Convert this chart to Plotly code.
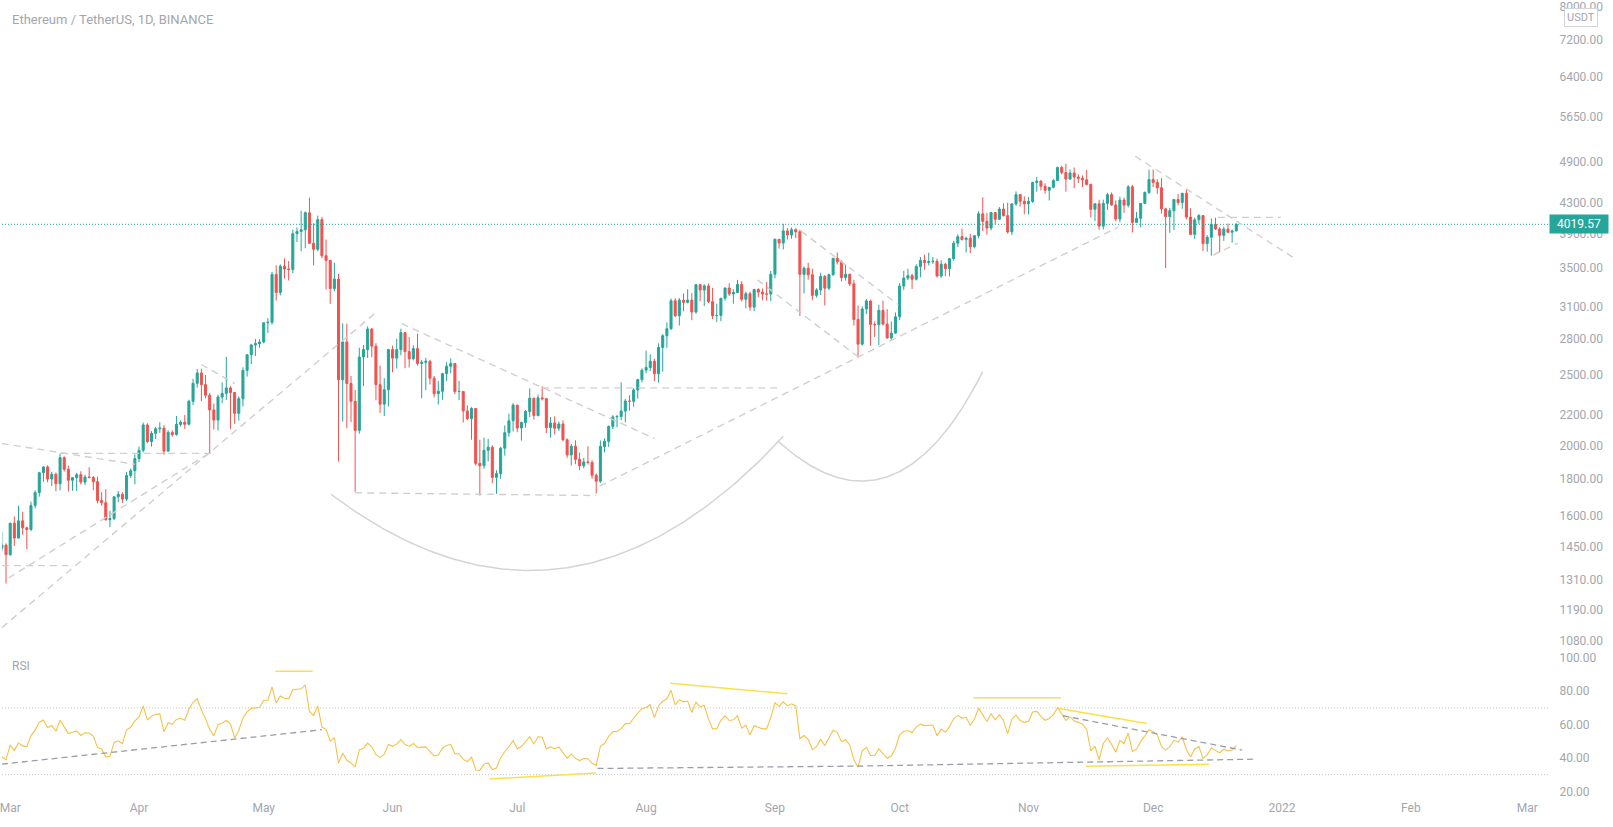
import numpy as np
import pandas as pd
import plotly.graph_objects as go

# ---------------- DATA (ETH/USDT daily, Binance) ----------------
FIRST_DATE = "2021-02-27"
FIRST_OPEN = 1446.0

feb_close = [1459.7, 1416.5]
feb_high = [1525, 1468]
feb_low = [1431, 1293]

mar_close = [1564.1, 1492.6, 1575.9, 1541.9, 1533.3, 1654.7, 1723.1, 1834.7, 1868.5, 1798.8, 1826.2, 1772.1, 1924.3, 1854.6, 1791.4, 1806.6,
             1823.1, 1781.0, 1810.3, 1807.4, 1783.0, 1680.8, 1669.3, 1581.8, 1587.2, 1700.0, 1713.8, 1688.1, 1818.3, 1846.5, 1918.4]
mar_high = [1567, 1598, 1652, 1622, 1547, 1674, 1735, 1840, 1874, 1878, 1840, 1836, 1947, 1932, 1876, 1809,
            1834, 1843, 1823, 1867, 1815, 1812, 1725, 1742, 1627, 1705, 1732, 1725, 1840, 1860, 1944]
mar_low = [1411, 1456, 1491, 1508, 1440, 1525, 1639, 1701, 1783, 1780, 1760, 1730, 1735, 1841, 1729, 1733,
           1732, 1768, 1764, 1802, 1736, 1665, 1653, 1576, 1545, 1580, 1672, 1668, 1678, 1804, 1769]

apr_close = [1969.2, 2133.5, 2024.0, 2077.6, 2107.6, 2112.2, 1964.2, 2083.8, 2069.9, 2136.6, 2152.0, 2138.0, 2299.2, 2432.6, 2514.0,
             2422.7, 2343.0, 2237.1, 2166.2, 2330.1, 2356.9, 2397.9, 2363.4, 2213.2, 2317.6, 2533.6, 2662.7, 2746.1, 2757.2, 2772.0]
apr_high = [1993, 2149, 2145, 2092, 2120, 2152, 2132, 2097, 2097, 2195, 2165, 2201, 2310, 2468, 2546,
            2547, 2497, 2360, 2282, 2347, 2440, 2645, 2411, 2367, 2335, 2560, 2667, 2756, 2799, 2797]
apr_low = [1898, 1957, 2013, 1993, 2040, 2080, 1942, 1960, 2055, 2062, 2123, 2107, 2130, 2271, 2400,
           2300, 2321, 1950, 2102, 2096, 2285, 2309, 2105, 2141, 2163, 2261, 2485, 2586, 2652, 2721]

may_close = [2945.8, 2949.6, 3431.0, 3241.5, 3522.3, 3490.9, 3484.7, 3902.6, 3928.8, 3952.0, 4168.7, 3785.7, 3715.1, 4079.6, 3640.1, 3587.0,
             3281.8, 3381.4, 2460.6, 2772.3, 2431.6, 2298.4, 2097.0, 2643.8, 2706.2, 2888.8, 2735.9, 2422.7, 2278.3, 2384.2, 2707.0]
may_high = [2950, 2989, 3458, 3531, 3541, 3610, 3580, 3950, 3982, 4197, 4187, 4372, 4032, 4133, 4115, 3831,
            3587, 3561, 3437, 2940, 2938, 2490, 2383, 2723, 2746, 2912, 2895, 2762, 2573, 2473, 2712]
may_low = [2760, 2852, 2930, 3158, 3211, 3386, 3367, 3446, 3800, 3691, 3726, 3780, 3530, 3690, 3613, 3272,
           3127, 3253, 1900, 2156, 2111, 2152, 1728, 2075, 2411, 2635, 2642, 2306, 2216, 2194, 2262]

jun_close = [2634.5, 2706.0, 2855.4, 2689.2, 2629.3, 2714.9, 2590.6, 2599.7, 2608.0, 2472.6, 2354.7, 2372.6, 2508.4, 2568.0, 2590.2,
             2370.1, 2371.4, 2230.2, 2176.2, 2247.0, 1889.6, 1875.4, 1969.1, 1989.0, 1808.1, 1829.6, 1982.5, 2082.0, 2161.5, 2271.3]
jun_high = [2740, 2801, 2891, 2857, 2817, 2743, 2845, 2620, 2637, 2620, 2490, 2452, 2515, 2600, 2632,
            2593, 2452, 2374, 2269, 2257, 2249, 2036, 2050, 2041, 2001, 1849, 1991, 2130, 2211, 2286]
jun_low = [2520, 2550, 2658, 2552, 2558, 2616, 2573, 2321, 2381, 2424, 2327, 2275, 2310, 2452, 2512,
           2350, 2307, 2150, 2166, 2036, 1876, 1707, 1857, 1901, 1774, 1716, 1800, 1936, 2055, 2090]

jul_close = [2113.2, 2150.2, 2225.9, 2321.5, 2197.8, 2323.9, 2317.6, 2115.6, 2146.3, 2111.3, 2140.0, 2035.9, 1940.8, 1994.8, 1914.2, 1875.4,
             1897.9, 1895.1, 1820.3, 1786.0, 1993.0, 2026.5, 2123.4, 2188.2, 2191.1, 2229.0, 2300.2, 2298.9, 2382.3, 2461.7, 2536.2]
jul_high = [2273, 2155, 2237, 2394, 2325, 2348, 2410, 2324, 2187, 2192, 2157, 2164, 2045, 2009, 2033, 1955,
            1923, 1994, 1909, 1830, 2031, 2045, 2130, 2200, 2203, 2440, 2317, 2344, 2396, 2468, 2550]
jul_low = [2085, 2030, 2115, 2187, 2170, 2192, 2305, 2080, 2050, 2070, 2094, 2025, 1923, 1877, 1885, 1850,
           1860, 1883, 1800, 1718, 1777, 1956, 1991, 2106, 2118, 2166, 2151, 2232, 2260, 2318, 2440]

aug_close = [2557.3, 2608.7, 2507.8, 2724.9, 2827.4, 2890.8, 3158.0, 3012.0, 3163.2, 3141.8, 3164.0, 3046.8, 3322.2, 3266.7, 3309.1, 3148.5,
             3012.1, 3014.4, 3182.7, 3286.6, 3226.7, 3242.1, 3323.9, 3172.2, 3228.6, 3094.9, 3271.6, 3244.9, 3224.9, 3224.8, 3433.2]
aug_high = [2698, 2667, 2629, 2760, 2842, 2950, 3180, 3183, 3185, 3230, 3275, 3235, 3330, 3332, 3326, 3335,
            3290, 3128, 3186, 3294, 3337, 3275, 3373, 3360, 3249, 3249, 3280, 3285, 3283, 3350, 3470]
aug_low = [2511, 2530, 2451, 2438, 2524, 2721, 2878, 2999, 2920, 3055, 3131, 2970, 3031, 3154, 3105, 3135,
           2981, 2952, 2960, 3159, 3206, 3129, 3237, 3150, 3082, 3060, 3055, 3195, 3162, 3160, 3155]

sep_close = [3834.6, 3788.8, 3937.0, 3886.6, 3952.0, 3926.5, 3432.4, 3499.0, 3427.3, 3211.9, 3267.9, 3410.1, 3285.3, 3429.1, 3611.0,
             3572.0, 3398.6, 3433.2, 3330.9, 2976.9, 2753.5, 3077.0, 3155.2, 2930.4, 2927.1, 3062.7, 2933.4, 2807.6, 2851.2, 3001.7]
sep_high = [3841, 3836, 4027, 3973, 3980, 3970, 3950, 3520, 3560, 3495, 3285, 3450, 3425, 3440, 3615,
            3677, 3588, 3540, 3440, 3375, 3110, 3102, 3175, 3168, 2957, 3118, 3159, 3075, 2957, 3043]
sep_low = [3388, 3722, 3713, 3831, 3840, 3848, 3010, 3231, 3375, 3162, 3191, 3215, 3110, 3265, 3415,
           3540, 3356, 3365, 3305, 2920, 2651, 2740, 3027, 2740, 2815, 2745, 2920, 2803, 2790, 2844]

oct_close = [3307.5, 3391.7, 3418.4, 3380.1, 3517.6, 3587.0, 3562.0, 3572.9, 3576.2, 3414.2, 3543.1, 3495.4, 3606.1, 3787.8, 3866.2, 3830.4,
             3847.0, 3745.0, 3877.7, 4155.0, 4057.8, 3973.1, 4170.9, 4084.0, 4217.9, 4131.1, 3924.2, 4287.2, 4414.5, 4323.0, 4288.1]
oct_high = [3340, 3470, 3493, 3439, 3543, 3626, 3653, 3674, 3625, 3607, 3589, 3560, 3615, 3817, 3895, 3967,
            3865, 3900, 3882, 4190, 4378, 4168, 4173, 4180, 4245, 4295, 4305, 4299, 4460, 4416, 4390]
oct_low = [2970, 3265, 3370, 3277, 3366, 3400, 3482, 3530, 3547, 3400, 3396, 3413, 3410, 3583, 3740, 3820,
           3677, 3670, 3725, 3845, 3935, 3890, 3943, 4020, 4077, 4120, 3903, 3885, 4260, 4250, 4150]

nov_close = [4321.0, 4587.5, 4605.1, 4533.6, 4475.6, 4518.4, 4616.9, 4810.6, 4733.8, 4637.0, 4726.9, 4667.0, 4650.0, 4626.0, 4559.7,
             4214.6, 4288.6, 3997.1, 4294.4, 4414.5, 4272.3, 4087.6, 4339.8, 4270.3, 4524.6, 4044.6, 4096.8, 4294.5, 4444.5, 4631.0]
nov_high = [4380, 4600, 4667, 4623, 4575, 4523, 4634, 4821, 4837, 4868, 4779, 4810, 4707, 4692, 4773,
            4570, 4300, 4343, 4345, 4440, 4445, 4333, 4388, 4375, 4550, 4553, 4180, 4298, 4460, 4778]
nov_low = [4147, 4300, 4455, 4474, 4430, 4334, 4501, 4612, 4707, 4456, 4628, 4505, 4580, 4522, 4545,
           4106, 4060, 3952, 3955, 4206, 4264, 4058, 4045, 4167, 4241, 3918, 4038, 3980, 4285, 4424]

dec_close = [4586.3, 4512.1, 4220.6, 4119.7, 4196.8, 4348.0, 4307.0, 4432.4, 4112.1, 3894.0, 4077.3, 4132.9, 3782.5, 3858.9, 4018.3,
             3961.2, 3882.1, 3959.5, 3920.1, 3936.3, 4019.57]
dec_high = [4778, 4635, 4650, 4236, 4234, 4350, 4425, 4440, 4485, 4227, 4106, 4150, 4138, 3885, 4094,
            4104, 3984, 3990, 4030, 3953, 4032]
dec_low = [4521, 4426, 4159, 3500, 3912, 3946, 4268, 4222, 4082, 3884, 3837, 4025, 3695, 3687, 3642,
           3950, 3677, 3815, 3908, 3794, 3933]

# closes before the visible window (Jan 1 - Feb 26 2021), only used to warm up the RSI
warmup_close = [730.4, 774.6, 975.5, 1040.6, 1100.2, 1207.1, 1225.7, 1224.2, 1281.1, 1262.2, 1090.1, 1043.4, 1130.2, 1217.9, 1171.3, 1233.5,
                1230.2, 1257.2, 1377.3, 1382.3, 1121.5, 1236.3, 1230.9, 1392.5, 1324.4, 1357.1, 1253.2, 1332.5, 1382.3, 1376.1, 1314.9,
                1369.0, 1514.1, 1660.9, 1594.8, 1718.0, 1677.8, 1614.2, 1746.0, 1768.0, 1744.2, 1783.0, 1843.5, 1814.1, 1805.1, 1779.0,
                1781.1, 1848.3, 1937.5, 1960.2, 1920.0, 1935.6, 1780.0, 1570.0, 1626.6, 1475.7, 1446.0]

closes = feb_close + mar_close + apr_close + may_close + jun_close + jul_close + aug_close + sep_close + oct_close + nov_close + dec_close
highs = feb_high + mar_high + apr_high + may_high + jun_high + jul_high + aug_high + sep_high + oct_high + nov_high + dec_high
lows = feb_low + mar_low + apr_low + may_low + jun_low + jul_low + aug_low + sep_low + oct_low + nov_low + dec_low
opens = [FIRST_OPEN] + closes[:-1]          # Binance daily open == previous close
dates = pd.date_range(FIRST_DATE, periods=len(closes), freq="D")
LAST_PRICE = closes[-1]

price_ticks = [1080, 1190, 1310, 1450, 1600, 1800, 2000, 2200, 2500, 2800, 3100, 3500, 3900, 4300, 4900, 5650, 6400, 7200, 8000]
rsi_ticks = [20, 40, 60, 80, 100]
month_ticks = ["2021-03-01", "2021-04-01", "2021-05-01", "2021-06-01", "2021-07-01", "2021-08-01", "2021-09-01",
               "2021-10-01", "2021-11-01", "2021-12-01", "2022-01-01", "2022-02-01", "2022-03-01"]
month_labels = ["Mar", "Apr", "May", "Jun", "Jul", "Aug", "Sep", "Oct", "Nov", "Dec", "2022", "Feb", "Mar"]

# drawings on the price pane: (date, price) endpoints
price_lines = [
    [("2021-02-27", 2012), ("2021-03-31", 1884)],
    [("2021-03-13", 1950), ("2021-04-18 12:00", 1950)],
    [("2021-02-27", 1368), ("2021-03-15", 1368)],
    [("2021-02-27", 1125), ("2021-05-27 16:00", 3031)],
    [("2021-02-28 15:00", 1316), ("2021-04-17 19:00", 1950)],
    [("2021-04-16", 2582), ("2021-04-24", 2431)],
    [("2021-06-03 05:00", 2937), ("2021-08-03", 2044)],
    [("2021-05-23", 1722), ("2021-07-20", 1707)],
    [("2021-07-07", 2398), ("2021-09-02 12:00", 2398)],
    [("2021-07-20 19:00", 1758), ("2021-11-22 14:00", 3984)],
    [("2021-08-27 19:00", 3373), ("2021-09-21", 2646)],
    [("2021-09-07 07:00", 3934), ("2021-09-30 17:00", 3118)],
    [("2021-11-26 17:00", 4983), ("2022-01-03 22:00", 3613)],
    [("2021-12-16 14:00", 4109), ("2021-12-31 17:00", 4109)],
    [("2021-12-15 10:00", 3648), ("2021-12-21 10:00", 3789)],
]
# arcs: start, control, end (quadratic curve on the log chart)
arcs = [
    [("2021-05-17 04:00", 1714), ("2021-07-12 19:00", 979), ("2021-09-03", 2058)],
    [("2021-09-01 19:00", 2026), ("2021-09-29 17:00", 1451), ("2021-10-21", 2524)],
]
# drawings on the RSI pane
rsi_grey_lines = [
    [("2021-02-27", 36.3), ("2021-05-15", 56.9)],
    [("2021-07-20 07:00", 33.7), ("2021-09-20 19:00", 35.1)],
    [("2021-09-20 19:00", 35.1), ("2021-12-26", 39.3)],
    [("2021-11-09 07:00", 65.3), ("2021-12-22 10:00", 44.7)],
]
rsi_yellow_lines = [
    [("2021-05-03 19:00", 92.0), ("2021-05-12 19:00", 92.0)],
    [("2021-06-24 07:00", 27.4), ("2021-07-19 22:00", 31.0)],
    [("2021-08-06 19:00", 84.7), ("2021-09-04", 78.5)],
    [("2021-10-18 17:00", 76.1), ("2021-11-08 19:00", 76.1)],
    [("2021-11-08 07:00", 69.7), ("2021-11-29 12:00", 60.6)],
    [("2021-11-14 19:00", 35.1), ("2021-12-14 10:00", 36.3)],
]
RSI_LEN = 14

# ---------------- STYLE ----------------
UP = "#26a69a"
DOWN = "#ef5350"
TXT = "#a3a6ad"
FONT = "Roboto, sans-serif"
X_START = "2021-02-27 00:43"
X_END = "2022-03-06 00:00"
PLOT_H = 827 - 28
PRICE_DOM = [1 - 646 / PLOT_H, 1]
RSI_DOM = [0, (PLOT_H - 648) / PLOT_H]


def rma(values, n):
    out = np.full(len(values), np.nan)
    out[n - 1] = np.mean(values[:n])
    for i in range(n, len(values)):
        out[i] = (out[i - 1] * (n - 1) + values[i]) / n
    return out


allc = np.array(warmup_close + closes, dtype=float)
d = np.diff(allc)
g = rma(np.clip(d, 0, None), RSI_LEN)
l = rma(np.clip(-d, 0, None), RSI_LEN)
rsi_all = 100 - 100 / (1 + g / l)
rsi = rsi_all[-len(closes):]

fig = go.Figure()

# last price dotted line
fig.add_trace(go.Scatter(x=[X_START, X_END], y=[LAST_PRICE, LAST_PRICE], mode="lines",
                         line=dict(color=UP, width=1, dash="1px,2px"), hoverinfo="skip", yaxis="y"))

fig.add_trace(go.Candlestick(
    x=dates, open=opens, high=highs, low=lows, close=closes,
    increasing=dict(line=dict(color=UP, width=1), fillcolor=UP),
    decreasing=dict(line=dict(color=DOWN, width=1), fillcolor=DOWN),
    whiskerwidth=0, hoverinfo="skip", yaxis="y"))

for seg in price_lines:
    fig.add_trace(go.Scatter(x=[p[0] for p in seg], y=[p[1] for p in seg], mode="lines",
                             line=dict(color="#cfcfcf", width=1.4, dash="7px,5px"), hoverinfo="skip", yaxis="y"))

REF = pd.Timestamp("2021-03-01")
for arc in arcs:
    pts = np.array([[(pd.Timestamp(a) - REF).total_seconds() / 86400, np.log10(b)] for a, b in arc])
    t = np.linspace(0, 1, 120)[:, None]
    curve = (1 - t) ** 2 * pts[0] + 2 * t * (1 - t) * pts[1] + t ** 2 * pts[2]
    fig.add_trace(go.Scatter(x=[REF + pd.Timedelta(days=v) for v in curve[:, 0]], y=10 ** curve[:, 1], mode="lines",
                             line=dict(color="#d4d4d4", width=1.5), hoverinfo="skip", yaxis="y"))

# RSI pane
for lvl in (70, 30):
    fig.add_trace(go.Scatter(x=[X_START, X_END], y=[lvl, lvl], mode="lines",
                             line=dict(color="#c4c6cc", width=1, dash="1px,2px"), hoverinfo="skip", yaxis="y2"))
fig.add_trace(go.Scatter(x=dates, y=rsi, mode="lines", line=dict(color="#f5c249", width=1.1),
                         hoverinfo="skip", yaxis="y2"))
for seg in rsi_grey_lines:
    fig.add_trace(go.Scatter(x=[p[0] for p in seg], y=[p[1] for p in seg], mode="lines",
                             line=dict(color="#9a9daa", width=1.3, dash="6px,4px"), hoverinfo="skip", yaxis="y2"))
for seg in rsi_yellow_lines:
    fig.add_trace(go.Scatter(x=[p[0] for p in seg], y=[p[1] for p in seg], mode="lines",
                             line=dict(color="#fbe04a", width=1.5), hoverinfo="skip", yaxis="y2"))

axis_font = dict(family=FONT, size=12, color=TXT)
fig.update_layout(
    width=1613, height=827,
    margin=dict(l=0, r=65, t=0, b=28),
    paper_bgcolor="white", plot_bgcolor="white",
    showlegend=False, hovermode=False,
    xaxis=dict(type="date", range=[X_START, X_END], anchor="y2", tickvals=month_ticks, ticktext=month_labels,
               showgrid=False, zeroline=False, showline=False, ticks="", tickfont=axis_font,
               ticklabeloverflow="allow", rangeslider=dict(visible=False)),
    yaxis=dict(type="log", domain=PRICE_DOM, range=[np.log10(1059.6), np.log10(8085)], side="right", anchor="x",
               tickvals=price_ticks, ticktext=[f"{v:.2f}" for v in price_ticks], showgrid=False, zeroline=False,
               showline=False, ticks="outside", ticklen=8, tickcolor="rgba(0,0,0,0)", tickfont=axis_font,
               ticklabeloverflow="allow"),
    yaxis2=dict(domain=RSI_DOM, range=[15.4, 105.55], side="right", anchor="x",
                tickvals=rsi_ticks, ticktext=[f"{v:.2f}" for v in rsi_ticks], showgrid=False, zeroline=False,
                showline=False, ticks="outside", ticklen=8, tickcolor="rgba(0,0,0,0)", tickfont=axis_font),
    annotations=[
        dict(text="Ethereum / TetherUS, 1D, BINANCE", xref="paper", yref="paper", x=0, y=1, xshift=8, yshift=-16,
             xanchor="left", yanchor="middle", showarrow=False, font=dict(family=FONT, size=13, color=TXT)),
        dict(text="RSI", xref="paper", yref="paper", x=0, y=(PLOT_H - 665) / PLOT_H, xshift=8,
             xanchor="left", yanchor="middle", showarrow=False, font=dict(family=FONT, size=12, color=TXT)),
        dict(text=f"{LAST_PRICE:.2f}", xref="paper", yref="y", x=1, y=np.log10(LAST_PRICE), xanchor="left", xshift=1,
             yanchor="middle", showarrow=False, bgcolor=UP, borderpad=2, width=54, height=14,
             font=dict(family=FONT, size=12, color="white")),
        dict(text="USDT", xref="paper", yref="paper", x=1, y=1, xanchor="left", yanchor="top", xshift=16, yshift=-5,
             showarrow=False, bgcolor="white", bordercolor="#d1d4dc", borderwidth=1, borderpad=2,
             font=dict(family=FONT, size=11, color=TXT)),
    ],
)

fig.write_html("out.html", config={"displayModeBar": False},
               post_script="document.body.style.margin='0';document.body.style.overflow='hidden';")
